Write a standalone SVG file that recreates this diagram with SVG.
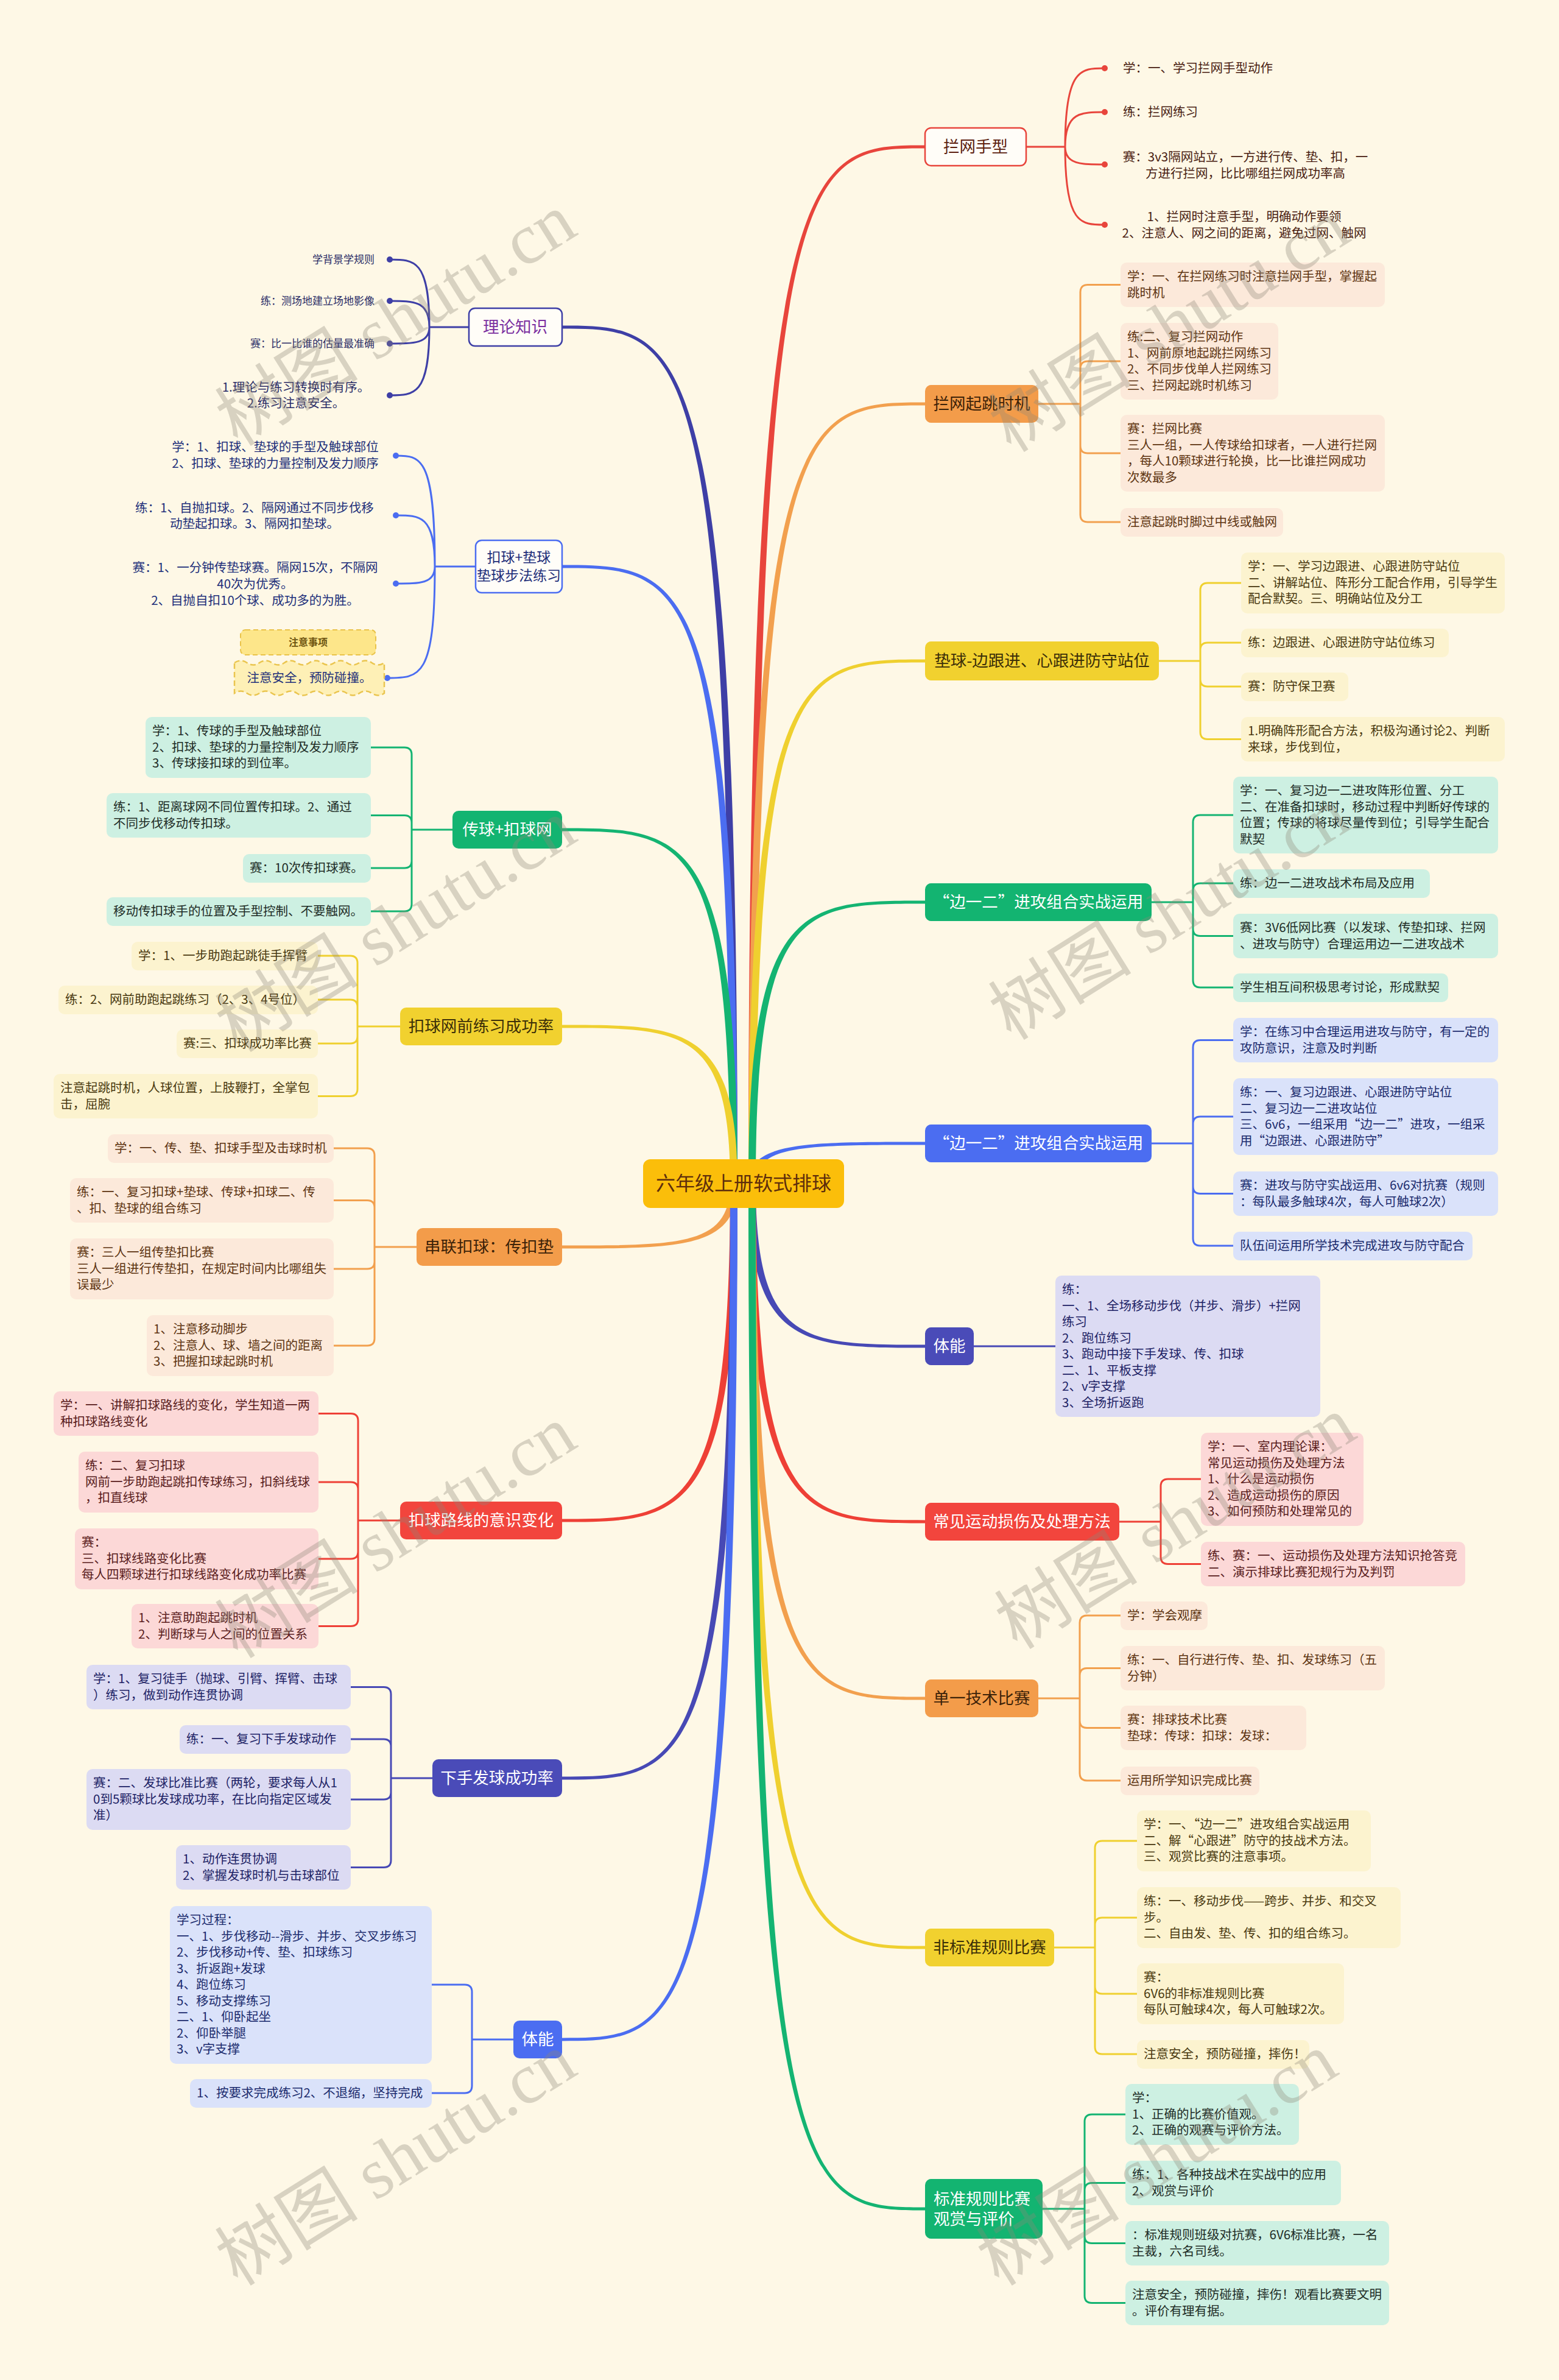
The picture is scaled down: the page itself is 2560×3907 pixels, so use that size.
<svg xmlns="http://www.w3.org/2000/svg" width="2560" height="3907" viewBox="0 0 2560 3907">
<style>
text{font-family:"Noto Sans CJK SC","Noto Sans",sans-serif}
.lt text,text.lt{font-size:20.5px}
.mt{font-size:26.5px;text-anchor:middle}
.lo rect{fill:#FCE9DA}.lo text{fill:#5E3512}
.ly rect{fill:#FCF3CF}.ly text{fill:#4A3A10}
.lg rect{fill:#CDF0E2}.lg text{fill:#1F2D27}
.lb rect{fill:#DAE2FA}.lb text{fill:#1C2C6E}
.li rect{fill:#DCDBF3}.li text{fill:#1E2366}
.lr rect{fill:#FCD8D7}.lr text{fill:#5A1D1D}
.leaf text{font-size:20.5px}
.sc{fill:none;stroke-width:3;stroke-linecap:round}
.wm{font-family:"Liberation Serif","Noto Sans CJK SC",serif;font-size:118px;fill:#8E8778;opacity:0.33;text-anchor:middle}
</style>
<rect x="0" y="0" width="2560" height="3907" fill="#FEF8E6"/>
<g id="connectors">
<g id="main-branches">
<path fill="#E8453C" d="M1229 1943C1229 238.5 1320 238.5 1519 238.5L1519 243.5C1320 243.5 1241 243.5 1241 1943Z"/>
<path fill="#F2A04E" d="M1229 1943C1229 660.5 1320 660.5 1519 660.5L1519 665.5C1320 665.5 1241 665.5 1241 1943Z"/>
<path fill="#EFD02F" d="M1229 1943C1229 1082.5 1320 1082.5 1519 1082.5L1519 1087.5C1320 1087.5 1241 1087.5 1241 1943Z"/>
<path fill="#14B472" d="M1229 1943C1229 1478.5 1320 1478.5 1519 1478.5L1519 1483.5C1320 1483.5 1241 1483.5 1241 1943Z"/>
<path fill="#4B6DF1" d="M1229 1943C1229 1874.5 1320 1874.5 1519 1874.5L1519 1879.5C1320 1879.5 1241 1879.5 1241 1943Z"/>
<path fill="#4749B5" d="M1229 1943C1229 2212.5 1320 2212.5 1519 2212.5L1519 2207.5C1320 2207.5 1241 2207.5 1241 1943Z"/>
<path fill="#EE4036" d="M1229 1943C1229 2500.5 1320 2500.5 1519 2500.5L1519 2495.5C1320 2495.5 1241 2495.5 1241 1943Z"/>
<path fill="#F2A04E" d="M1229 1943C1229 2790.5 1320 2790.5 1519 2790.5L1519 2785.5C1320 2785.5 1241 2785.5 1241 1943Z"/>
<path fill="#EFD02F" d="M1229 1943C1229 3199.5 1320 3199.5 1519 3199.5L1519 3194.5C1320 3194.5 1241 3194.5 1241 1943Z"/>
<path fill="#14B472" d="M1229 1943C1229 3628.5 1320 3628.5 1519 3628.5L1519 3623.5C1320 3623.5 1241 3623.5 1241 1943Z"/>
<path fill="#3E3FA6" d="M1211 1943C1211 534.5 1120 534.5 923 534.5L923 539.5C1120 539.5 1199 539.5 1199 1943Z"/>
<path fill="#4B6DF1" d="M1211 1943C1211 927.5 1120 927.5 923 927.5L923 932.5C1120 932.5 1199 932.5 1199 1943Z"/>
<path fill="#14B472" d="M1211 1943C1211 1359.5 1120 1359.5 923 1359.5L923 1364.5C1120 1364.5 1199 1364.5 1199 1943Z"/>
<path fill="#EFD02F" d="M1211 1943C1211 1682.5 1120 1682.5 923 1682.5L923 1687.5C1120 1687.5 1199 1687.5 1199 1943Z"/>
<path fill="#F2A04E" d="M1211 1943C1211 2049.5 1120 2049.5 923 2049.5L923 2044.5C1120 2044.5 1199 2044.5 1199 1943Z"/>
<path fill="#EE4036" d="M1211 1943C1211 2498.5 1120 2498.5 923 2498.5L923 2493.5C1120 2493.5 1199 2493.5 1199 1943Z"/>
<path fill="#4749B5" d="M1211 1943C1211 2921.5 1120 2921.5 923 2921.5L923 2916.5C1120 2916.5 1199 2916.5 1199 1943Z"/>
<path fill="#4B6DF1" d="M1211 1943C1211 3350.5 1120 3350.5 923 3350.5L923 3345.5C1120 3345.5 1199 3345.5 1199 1943Z"/>
</g>
<g id="sub-connectors">
<path class="sc" stroke="#E8453C" d="M1685 241H1749 M1749 241C1749 112 1775 112 1814 112 M1749 241C1749 184 1775 184 1814 184 M1749 241C1749 270 1775 270 1814 270 M1749 241C1749 369 1775 369 1814 369"/>
<g fill="#E8453C"><circle cx="1814" cy="112" r="5"/><circle cx="1814" cy="184" r="5"/><circle cx="1814" cy="270" r="5"/><circle cx="1814" cy="369" r="5"/></g>
<path class="sc" stroke="#F2A04E" d="M1705 663H1774 M1774 663V479.5Q1774 467.5 1786 467.5H1840 M1774 663V605Q1774 593 1786 593H1840 M1774 663V732Q1774 744 1786 744H1840 M1774 663V845Q1774 857 1786 857H1840"/>
<path class="sc" stroke="#EFD02F" d="M1903 1085H1971 M1971 1085V969Q1971 957 1983 957H2038 M1971 1085V1067Q1971 1055 1983 1055H2038 M1971 1085V1115Q1971 1127 1983 1127H2038 M1971 1085V1201.5Q1971 1213.5 1983 1213.5H2038"/>
<path class="sc" stroke="#14B472" d="M1891 1481H1959 M1959 1481V1350Q1959 1338 1971 1338H2025 M1959 1481V1462Q1959 1450 1971 1450H2025 M1959 1481V1524.5Q1959 1536.5 1971 1536.5H2025 M1959 1481V1609Q1959 1621 1971 1621H2025"/>
<path class="sc" stroke="#4B6DF1" d="M1891 1877H1959 M1959 1877V1719.5Q1959 1707.5 1971 1707.5H2025 M1959 1877V1845Q1959 1833 1971 1833H2025 M1959 1877V1947.5Q1959 1959.5 1971 1959.5H2025 M1959 1877V2033Q1959 2045 1971 2045H2025"/>
<path class="sc" stroke="#4749B5" d="M1599 2210H1733"/>
<path class="sc" stroke="#EE4036" d="M1838 2498H1906 M1906 2498V2440Q1906 2428 1918 2428H1972 M1906 2498V2555.5Q1906 2567.5 1918 2567.5H1972"/>
<path class="sc" stroke="#F2A04E" d="M1705 2788H1773 M1773 2788V2664Q1773 2652 1785 2652H1840 M1773 2788V2750.5Q1773 2738.5 1785 2738.5H1840 M1773 2788V2824.5Q1773 2836.5 1785 2836.5H1840 M1773 2788V2911Q1773 2923 1785 2923H1840"/>
<path class="sc" stroke="#EFD02F" d="M1731 3197H1798 M1798 3197V3034Q1798 3022 1810 3022H1867 M1798 3197V3160Q1798 3148 1810 3148H1867 M1798 3197V3261Q1798 3273 1810 3273H1867 M1798 3197V3360Q1798 3372 1810 3372H1867"/>
<path class="sc" stroke="#14B472" d="M1712 3626H1781 M1781 3626V3483Q1781 3471 1793 3471H1848 M1781 3626V3595.5Q1781 3583.5 1793 3583.5H1848 M1781 3626V3670.5Q1781 3682.5 1793 3682.5H1848 M1781 3626V3768.5Q1781 3780.5 1793 3780.5H1848"/>
<path class="sc" stroke="#3E3FA6" d="M770 537H705 M705 537C705 426 680 426 640 426 M705 537C705 494 680 494 640 494 M705 537C705 564 680 564 640 564 M705 537C705 649 680 649 640 649"/>
<g fill="#3E3FA6"><circle cx="640" cy="426" r="5"/><circle cx="640" cy="494" r="5"/><circle cx="640" cy="564" r="5"/><circle cx="640" cy="649" r="5"/></g>
<path class="sc" stroke="#4B6DF1" d="M781 930H714 M714 930C714 748 690 748 650 748 M714 930C714 846 690 846 650 846 M714 930C714 958 690 958 650 958 M714 930C714 1113 690 1113 636 1113"/>
<g fill="#4B6DF1"><circle cx="650" cy="748" r="5"/><circle cx="650" cy="846" r="5"/><circle cx="650" cy="958" r="5"/><circle cx="636" cy="1113" r="5"/></g>
<path class="sc" stroke="#14B472" d="M743 1362H676 M676 1362V1239Q676 1227 664 1227H609 M676 1362V1350.5Q676 1338.5 664 1338.5H609 M676 1362V1413Q676 1425 664 1425H609 M676 1362V1484Q676 1496 664 1496H609"/>
<path class="sc" stroke="#EFD02F" d="M657 1685H587 M587 1685V1581Q587 1569 575 1569H522 M587 1685V1653Q587 1641 575 1641H522 M587 1685V1701Q587 1713 575 1713H522 M587 1685V1787.5Q587 1799.5 575 1799.5H522"/>
<path class="sc" stroke="#F2A04E" d="M684 2047H615 M615 2047V1897Q615 1885 603 1885H548 M615 2047V1982.5Q615 1970.5 603 1970.5H548 M615 2047V2071Q615 2083 603 2083H548 M615 2047V2197Q615 2209 603 2209H548"/>
<path class="sc" stroke="#EE4036" d="M657 2496H588 M588 2496V2332.5Q588 2320.5 576 2320.5H523 M588 2496V2445Q588 2433 576 2433H523 M588 2496V2547Q588 2559 576 2559H523 M588 2496V2657.5Q588 2669.5 576 2669.5H523"/>
<path class="sc" stroke="#4749B5" d="M710 2919H642 M642 2919V2781.5Q642 2769.5 630 2769.5H576 M642 2919V2867Q642 2855 630 2855H576 M642 2919V2942Q642 2954 630 2954H576 M642 2919V3053.5Q642 3065.5 630 3065.5H576"/>
<path class="sc" stroke="#4B6DF1" d="M843 3348H775 M775 3348V3270Q775 3258 763 3258H709 M775 3348V3424Q775 3436 763 3436H709"/>
</g>
</g>

<g id="root"><rect x="1056" y="1903" width="330" height="80" rx="12" fill="#FBBE0A"/><text x="1221" y="1954" font-size="32" text-anchor="middle" fill="#5E2E0C">六年级上册软式排球</text></g>

<!-- right main nodes -->
<g id="n-r1"><rect x="1519" y="210" width="166" height="62" rx="10" fill="#FFFDF8" stroke="#E8453C" stroke-width="2.5"/><text class="mt" x="1602" y="250" fill="#5C1F10">拦网手型</text></g>
<g id="n-r2"><rect x="1519" y="632" width="186" height="62" rx="10" fill="#F39C4A"/><text class="mt" x="1612" y="672" fill="#3C2208">拦网起跳时机</text></g>
<g id="n-r3"><rect x="1519" y="1053" width="384" height="64" rx="10" fill="#F1D12F"/><text class="mt" x="1711" y="1094" fill="#3C2F08">垫球-边跟进、心跟进防守站位</text></g>
<g id="n-r4"><rect x="1519" y="1450" width="372" height="62" rx="10" fill="#13B471"/><text class="mt" x="1705" y="1490" fill="#FFFFFF">“边一二”进攻组合实战运用</text></g>
<g id="n-r5"><rect x="1519" y="1846" width="372" height="62" rx="10" fill="#4B6DF1"/><text class="mt" x="1705" y="1886" fill="#FFFFFF">“边一二”进攻组合实战运用</text></g>
<g id="n-r6"><rect x="1519" y="2179" width="80" height="62" rx="10" fill="#4A4BB8"/><text class="mt" x="1559" y="2219" fill="#FFFFFF">体能</text></g>
<g id="n-r7"><rect x="1519" y="2467" width="319" height="62" rx="10" fill="#F2453D"/><text class="mt" x="1678" y="2507" fill="#FFFFFF">常见运动损伤及处理方法</text></g>
<g id="n-r8"><rect x="1519" y="2757" width="186" height="62" rx="10" fill="#F39C4A"/><text class="mt" x="1612" y="2797" fill="#3C2208">单一技术比赛</text></g>
<g id="n-r9"><rect x="1519" y="3166" width="212" height="62" rx="10" fill="#F1D12F"/><text class="mt" x="1625" y="3206" fill="#3C2F08">非标准规则比赛</text></g>
<g id="n-r10"><rect x="1519" y="3577" width="193" height="98" rx="10" fill="#13B471"/><text font-size="26.5" fill="#FFFFFF"><tspan x="1533" y="3619">标准规则比赛</tspan><tspan x="1533" y="3652">观赏与评价</tspan></text></g>

<!-- left main nodes -->
<g id="n-l1"><rect x="770" y="506" width="153" height="62" rx="10" fill="#FFFDF8" stroke="#3E3FA6" stroke-width="2.5"/><text class="mt" x="846" y="546" fill="#7B2FA0">理论知识</text></g>
<g id="n-l2"><rect x="781" y="887" width="142" height="86" rx="10" fill="#FFFDF8" stroke="#4B6DF1" stroke-width="2.5"/><text font-size="23" text-anchor="middle" fill="#1F2F7A"><tspan x="852" y="923">扣球+垫球</tspan><tspan x="852" y="953">垫球步法练习</tspan></text></g>
<g id="n-l3"><rect x="743" y="1331" width="180" height="62" rx="10" fill="#13B471"/><text class="mt" x="833" y="1371" fill="#FFFFFF">传球+扣球网</text></g>
<g id="n-l4"><rect x="657" y="1654" width="266" height="62" rx="10" fill="#F1D12F"/><text class="mt" x="790" y="1694" fill="#3C2F08">扣球网前练习成功率</text></g>
<g id="n-l5"><rect x="684" y="2016" width="239" height="62" rx="10" fill="#F39C4A"/><text class="mt" x="803" y="2056" fill="#3C2208">串联扣球：传扣垫</text></g>
<g id="n-l6"><rect x="657" y="2465" width="266" height="62" rx="10" fill="#F2453D"/><text class="mt" x="790" y="2505" fill="#FFFFFF">扣球路线的意识变化</text></g>
<g id="n-l7"><rect x="710" y="2888" width="213" height="62" rx="10" fill="#4A4BB8"/><text class="mt" x="816" y="2928" fill="#FFFFFF">下手发球成功率</text></g>
<g id="n-l8"><rect x="843" y="3317" width="80" height="62" rx="10" fill="#4B6DF1"/><text class="mt" x="883" y="3357" fill="#FFFFFF">体能</text></g>

<!-- R1 leaves (text only) -->
<g id="r1-leaves" font-size="20.5" fill="#4A1E12">
<text x="1844" y="119">学：一、学习拦网手型动作</text>
<text x="1844" y="191">练：拦网练习</text>
<text text-anchor="middle"><tspan x="2045" y="265">赛：3v3隔网站立，一方进行传、垫、扣，一</tspan><tspan x="2045" y="292">方进行拦网，比比哪组拦网成功率高</tspan></text>
<text text-anchor="middle"><tspan x="2043" y="363">1、拦网时注意手型，明确动作要领</tspan><tspan x="2043" y="390">2、注意人、网之间的距离，避免过网、触网</tspan></text>
</g>

<!-- R2 leaves -->
<g id="r2c1" class="leaf lo"><rect x="1840" y="431" width="434" height="73" rx="10"/><text y="461"><tspan x="1851">学：一、在拦网练习时注意拦网手型，掌握起</tspan><tspan x="1851" dy="26.5">跳时机</tspan></text></g>
<g id="r2c2" class="leaf lo"><rect x="1840" y="530" width="259" height="126" rx="10"/><text y="560"><tspan x="1851">练:二、复习拦网动作</tspan><tspan x="1851" dy="26.5">1、网前原地起跳拦网练习</tspan><tspan x="1851" dy="26.5">2、不同步伐单人拦网练习</tspan><tspan x="1851" dy="26.5">三、拦网起跳时机练习</tspan></text></g>
<g id="r2c3" class="leaf lo"><rect x="1840" y="681" width="434" height="126" rx="10"/><text y="711"><tspan x="1851">赛：拦网比赛</tspan><tspan x="1851" dy="26.5">三人一组，一人传球给扣球者，一人进行拦网</tspan><tspan x="1851" dy="26.5">，每人10颗球进行轮换，比一比谁拦网成功</tspan><tspan x="1851" dy="26.5">次数最多</tspan></text></g>
<g id="r2c4" class="leaf lo"><rect x="1840" y="834" width="267" height="47" rx="10"/><text x="1851" y="864">注意起跳时脚过中线或触网</text></g>

<!-- R3 leaves -->
<g id="r3c1" class="leaf ly"><rect x="2038" y="907" width="433" height="100" rx="10"/><text y="937"><tspan x="2049">学：一、学习边跟进、心跟进防守站位</tspan><tspan x="2049" dy="26.5">二、讲解站位、阵形分工配合作用，引导学生</tspan><tspan x="2049" dy="26.5">配合默契。三、明确站位及分工</tspan></text></g>
<g id="r3c2" class="leaf ly"><rect x="2038" y="1032" width="341" height="47" rx="10"/><text x="2049" y="1062">练：边跟进、心跟进防守站位练习</text></g>
<g id="r3c3" class="leaf ly"><rect x="2038" y="1104" width="176" height="47" rx="10"/><text x="2049" y="1134">赛：防守保卫赛</text></g>
<g id="r3c4" class="leaf ly"><rect x="2038" y="1177" width="433" height="73" rx="10"/><text y="1207"><tspan x="2049">1.明确阵形配合方法，积极沟通讨论2、判断</tspan><tspan x="2049" dy="26.5">来球，步伐到位，</tspan></text></g>

<!-- R4 leaves -->
<g id="r4c1" class="leaf lg"><rect x="2025" y="1275" width="435" height="126" rx="10"/><text y="1305"><tspan x="2036">学：一、复习边一二进攻阵形位置、分工</tspan><tspan x="2036" dy="26.5">二、在准备扣球时，移动过程中判断好传球的</tspan><tspan x="2036" dy="26.5">位置；传球的将球尽量传到位；引导学生配合</tspan><tspan x="2036" dy="26.5">默契</tspan></text></g>
<g id="r4c2" class="leaf lg"><rect x="2025" y="1427" width="323" height="47" rx="10"/><text x="2036" y="1457">练：边一二进攻战术布局及应用</text></g>
<g id="r4c3" class="leaf lg"><rect x="2025" y="1500" width="435" height="73" rx="10"/><text y="1530"><tspan x="2036">赛：3V6低网比赛（以发球、传垫扣球、拦网</tspan><tspan x="2036" dy="26.5">、进攻与防守）合理运用边一二进攻战术</tspan></text></g>
<g id="r4c4" class="leaf lg"><rect x="2025" y="1598" width="353" height="47" rx="10"/><text x="2036" y="1628">学生相互间积极思考讨论，形成默契</text></g>

<!-- R5 leaves -->
<g id="r5c1" class="leaf lb"><rect x="2025" y="1671" width="435" height="73" rx="10"/><text y="1701"><tspan x="2036">学：在练习中合理运用进攻与防守，有一定的</tspan><tspan x="2036" dy="26.5">攻防意识，注意及时判断</tspan></text></g>
<g id="r5c2" class="leaf lb"><rect x="2025" y="1770" width="435" height="126" rx="10"/><text y="1800"><tspan x="2036">练：一、复习边跟进、心跟进防守站位</tspan><tspan x="2036" dy="26.5">二、复习边一二进攻站位</tspan><tspan x="2036" dy="26.5">三、6v6，一组采用“边一二”进攻，一组采</tspan><tspan x="2036" dy="26.5">用“边跟进、心跟进防守”</tspan></text></g>
<g id="r5c3" class="leaf lb"><rect x="2025" y="1923" width="435" height="73" rx="10"/><text y="1953"><tspan x="2036">赛：进攻与防守实战运用、6v6对抗赛（规则</tspan><tspan x="2036" dy="26.5">：每队最多触球4次，每人可触球2次）</tspan></text></g>
<g id="r5c4" class="leaf lb"><rect x="2025" y="2022" width="393" height="47" rx="10"/><text x="2036" y="2052">队伍间运用所学技术完成进攻与防守配合</text></g>

<!-- R6 leaf -->
<g id="r6c1" class="leaf li"><rect x="1733" y="2094" width="435" height="232" rx="10"/><text y="2124"><tspan x="1744">练：</tspan><tspan x="1744" dy="26.5">一、1、全场移动步伐（并步、滑步）+拦网</tspan><tspan x="1744" dy="26.5">练习</tspan><tspan x="1744" dy="26.5">2、跑位练习</tspan><tspan x="1744" dy="26.5">3、跑动中接下手发球、传、扣球</tspan><tspan x="1744" dy="26.5">二、1、平板支撑</tspan><tspan x="1744" dy="26.5">2、v字支撑</tspan><tspan x="1744" dy="26.5">3、全场折返跑</tspan></text></g>

<!-- R7 leaves -->
<g id="r7c1" class="leaf lr"><rect x="1972" y="2352" width="267" height="153" rx="10"/><text y="2382"><tspan x="1983">学：一、室内理论课：</tspan><tspan x="1983" dy="26.5">常见运动损伤及处理方法</tspan><tspan x="1983" dy="26.5">1、什么是运动损伤</tspan><tspan x="1983" dy="26.5">2、造成运动损伤的原因</tspan><tspan x="1983" dy="26.5">3、如何预防和处理常见的</tspan></text></g>
<g id="r7c2" class="leaf lr"><rect x="1972" y="2531" width="434" height="73" rx="10"/><text y="2561"><tspan x="1983">练、赛：一、运动损伤及处理方法知识抢答竞</tspan><tspan x="1983" dy="26.5">二、演示排球比赛犯规行为及判罚</tspan></text></g>

<!-- R8 leaves -->
<g id="r8c1" class="leaf lo"><rect x="1840" y="2629" width="143" height="47" rx="10"/><text x="1851" y="2659">学：学会观摩</text></g>
<g id="r8c2" class="leaf lo"><rect x="1840" y="2702" width="434" height="73" rx="10"/><text y="2732"><tspan x="1851">练：一、自行进行传、垫、扣、发球练习（五</tspan><tspan x="1851" dy="26.5">分钟）</tspan></text></g>
<g id="r8c3" class="leaf lo"><rect x="1840" y="2800" width="305" height="73" rx="10"/><text y="2830"><tspan x="1851">赛：排球技术比赛</tspan><tspan x="1851" dy="26.5">垫球：传球：扣球：发球：</tspan></text></g>
<g id="r8c4" class="leaf lo"><rect x="1840" y="2900" width="228" height="47" rx="10"/><text x="1851" y="2930">运用所学知识完成比赛</text></g>

<!-- R9 leaves -->
<g id="r9c1" class="leaf ly"><rect x="1867" y="2972" width="384" height="100" rx="10"/><text y="3002"><tspan x="1878">学：一、“边一二”进攻组合实战运用</tspan><tspan x="1878" dy="26.5">二、解“心跟进”防守的技战术方法。</tspan><tspan x="1878" dy="26.5">三、观赏比赛的注意事项。</tspan></text></g>
<g id="r9c2" class="leaf ly"><rect x="1867" y="3098" width="433" height="100" rx="10"/><text y="3128"><tspan x="1878">练：一、移动步伐——跨步、并步、和交叉</tspan><tspan x="1878" dy="26.5">步。</tspan><tspan x="1878" dy="26.5">二、自由发、垫、传、扣的组合练习。</tspan></text></g>
<g id="r9c3" class="leaf ly"><rect x="1867" y="3223" width="340" height="100" rx="10"/><text y="3253"><tspan x="1878">赛：</tspan><tspan x="1878" dy="26.5">6V6的非标准规则比赛</tspan><tspan x="1878" dy="26.5">每队可触球4次，每人可触球2次。</tspan></text></g>
<g id="r9c4" class="leaf ly"><rect x="1867" y="3349" width="283" height="47" rx="10"/><text x="1878" y="3379">注意安全，预防碰撞，摔伤！</text></g>

<!-- R10 leaves -->
<g id="r10c1" class="leaf lg"><rect x="1848" y="3421" width="285" height="100" rx="10"/><text y="3451"><tspan x="1859">学：</tspan><tspan x="1859" dy="26.5">1、正确的比赛价值观。</tspan><tspan x="1859" dy="26.5">2、正确的观赛与评价方法。</tspan></text></g>
<g id="r10c2" class="leaf lg"><rect x="1848" y="3547" width="354" height="73" rx="10"/><text y="3577"><tspan x="1859">练：1、各种技战术在实战中的应用</tspan><tspan x="1859" dy="26.5">2、观赏与评价</tspan></text></g>
<g id="r10c3" class="leaf lg"><rect x="1848" y="3646" width="433" height="73" rx="10"/><text y="3676"><tspan x="1859">：标准规则班级对抗赛，6V6标准比赛，一名</tspan><tspan x="1859" dy="26.5">主裁，六名司线。</tspan></text></g>
<g id="r10c4" class="leaf lg"><rect x="1848" y="3744" width="433" height="73" rx="10"/><text y="3774"><tspan x="1859">注意安全，预防碰撞，摔伤！观看比赛要文明</tspan><tspan x="1859" dy="26.5">。评价有理有据。</tspan></text></g>

<!-- L1 leaves (text only) -->
<g id="l1-leaves" fill="#2B2D66">
<text x="615" y="432" font-size="17" text-anchor="end">学背景学规则</text>
<text x="615" y="500" font-size="17" text-anchor="end">练：测场地建立场地影像</text>
<text x="615" y="570" font-size="17" text-anchor="end">赛：比一比谁的估量最准确</text>
<text font-size="20.5" text-anchor="middle"><tspan x="486" y="643">1.理论与练习转换时有序。</tspan><tspan x="486" y="669">2.练习注意安全。</tspan></text>
</g>

<!-- L2 leaves -->
<g id="l2-leaves" fill="#22307A" font-size="20.5" text-anchor="middle">
<text><tspan x="452" y="741">学：1、扣球、垫球的手型及触球部位</tspan><tspan x="452" y="768">2、扣球、垫球的力量控制及发力顺序</tspan></text>
<text><tspan x="418" y="841">练：1、自抛扣球。2、隔网通过不同步伐移</tspan><tspan x="418" y="867">动垫起扣球。3、隔网扣垫球。</tspan></text>
<text><tspan x="419" y="939">赛：1、一分钟传垫球赛。隔网15次，不隔网</tspan><tspan x="419" y="966">40次为优秀。</tspan><tspan x="419" y="993">2、自抛自扣10个球、成功多的为胜。</tspan></text>
</g>
<g id="l2-note">
<rect x="395" y="1034" width="222" height="41" rx="8" fill="#FDE68A" stroke="#E9C34A" stroke-width="2" stroke-dasharray="8 5"/>
<text x="506" y="1060" font-size="16" font-weight="bold" text-anchor="middle" fill="#6E5410">注意事项</text>
<path d="M385 1088Q395.25 1081 405.5 1088T426 1088T446.5 1088T467 1088T487.5 1088T508 1088T528.5 1088T549 1088T569.5 1088T590 1088T610.5 1088T631 1088L631 1138Q620.75 1145 610.5 1138T590 1138T569.5 1138T549 1138T528.5 1138T508 1138T487.5 1138T467 1138T446.5 1138T426 1138T405.5 1138T385 1138Z" fill="#FEF0B6" stroke="#EAC54F" stroke-width="2.5" stroke-dasharray="9 5"/>
<text x="508" y="1120" font-size="20.5" text-anchor="middle" fill="#22307A">注意安全，预防碰撞。</text>
</g>

<!-- L3 leaves -->
<g id="l3c1" class="leaf lg"><rect x="239" y="1177" width="370" height="100" rx="10"/><text y="1207"><tspan x="250">学：1、传球的手型及触球部位</tspan><tspan x="250" dy="26.5">2、扣球、垫球的力量控制及发力顺序</tspan><tspan x="250" dy="26.5">3、传球接扣球的到位率。</tspan></text></g>
<g id="l3c2" class="leaf lg"><rect x="175" y="1302" width="434" height="73" rx="10"/><text y="1332"><tspan x="186">练：1、距离球网不同位置传扣球。2、通过</tspan><tspan x="186" dy="26.5">不同步伐移动传扣球。</tspan></text></g>
<g id="l3c3" class="leaf lg"><rect x="399" y="1402" width="210" height="47" rx="10"/><text x="410" y="1432">赛：10次传扣球赛。</text></g>
<g id="l3c4" class="leaf lg"><rect x="175" y="1473" width="434" height="47" rx="10"/><text x="186" y="1503">移动传扣球手的位置及手型控制、不要触网。</text></g>

<!-- L4 leaves -->
<g id="l4c1" class="leaf ly"><rect x="216" y="1546" width="306" height="47" rx="10"/><text x="227" y="1576">学：1、一步助跑起跳徒手挥臂</text></g>
<g id="l4c2" class="leaf ly"><rect x="96" y="1618" width="426" height="47" rx="10"/><text x="107" y="1648">练：2、网前助跑起跳练习（2、3、4号位）</text></g>
<g id="l4c3" class="leaf ly"><rect x="290" y="1690" width="232" height="47" rx="10"/><text x="301" y="1720">赛:三、扣球成功率比赛</text></g>
<g id="l4c4" class="leaf ly"><rect x="88" y="1763" width="434" height="73" rx="10"/><text y="1793"><tspan x="99">注意起跳时机，人球位置，上肢鞭打，全掌包</tspan><tspan x="99" dy="26.5">击，屈腕</tspan></text></g>

<!-- L5 leaves -->
<g id="l5c1" class="leaf lo"><rect x="177" y="1862" width="371" height="47" rx="10"/><text x="188" y="1892">学：一、传、垫、扣球手型及击球时机</text></g>
<g id="l5c2" class="leaf lo"><rect x="115" y="1934" width="433" height="73" rx="10"/><text y="1964"><tspan x="126">练：一、复习扣球+垫球、传球+扣球二、传</tspan><tspan x="126" dy="26.5">、扣、垫球的组合练习</tspan></text></g>
<g id="l5c3" class="leaf lo"><rect x="115" y="2033" width="433" height="100" rx="10"/><text y="2063"><tspan x="126">赛：三人一组传垫扣比赛</tspan><tspan x="126" dy="26.5">三人一组进行传垫扣，在规定时间内比哪组失</tspan><tspan x="126" dy="26.5">误最少</tspan></text></g>
<g id="l5c4" class="leaf lo"><rect x="241" y="2159" width="307" height="100" rx="10"/><text y="2189"><tspan x="252">1、注意移动脚步</tspan><tspan x="252" dy="26.5">2、注意人、球、墙之间的距离</tspan><tspan x="252" dy="26.5">3、把握扣球起跳时机</tspan></text></g>

<!-- L6 leaves -->
<g id="l6c1" class="leaf lr"><rect x="88" y="2284" width="435" height="73" rx="10"/><text y="2314"><tspan x="99">学：一、讲解扣球路线的变化，学生知道一两</tspan><tspan x="99" dy="26.5">种扣球路线变化</tspan></text></g>
<g id="l6c2" class="leaf lr"><rect x="129" y="2383" width="394" height="100" rx="10"/><text y="2413"><tspan x="140">练：二、复习扣球</tspan><tspan x="140" dy="26.5">网前一步助跑起跳扣传球练习，扣斜线球</tspan><tspan x="140" dy="26.5">，扣直线球</tspan></text></g>
<g id="l6c3" class="leaf lr"><rect x="123" y="2509" width="400" height="100" rx="10"/><text y="2539"><tspan x="134">赛：</tspan><tspan x="134" dy="26.5">三、扣球线路变化比赛</tspan><tspan x="134" dy="26.5">每人四颗球进行扣球线路变化成功率比赛</tspan></text></g>
<g id="l6c4" class="leaf lr"><rect x="216" y="2633" width="307" height="73" rx="10"/><text y="2663"><tspan x="227">1、注意助跑起跳时机</tspan><tspan x="227" dy="26.5">2、判断球与人之间的位置关系</tspan></text></g>

<!-- L7 leaves -->
<g id="l7c1" class="leaf li"><rect x="142" y="2733" width="434" height="73" rx="10"/><text y="2763"><tspan x="153">学：1、复习徒手（抛球、引臂、挥臂、击球</tspan><tspan x="153" dy="26.5">）练习，做到动作连贯协调</tspan></text></g>
<g id="l7c2" class="leaf li"><rect x="295" y="2832" width="281" height="47" rx="10"/><text x="306" y="2862">练：一、复习下手发球动作</text></g>
<g id="l7c3" class="leaf li"><rect x="142" y="2904" width="434" height="100" rx="10"/><text y="2934"><tspan x="153">赛：二、发球比准比赛（两轮，要求每人从1</tspan><tspan x="153" dy="26.5">0到5颗球比发球成功率，在比向指定区域发</tspan><tspan x="153" dy="26.5">准）</tspan></text></g>
<g id="l7c4" class="leaf li"><rect x="289" y="3029" width="287" height="73" rx="10"/><text y="3059"><tspan x="300">1、动作连贯协调</tspan><tspan x="300" dy="26.5">2、掌握发球时机与击球部位</tspan></text></g>

<!-- L8 leaves -->
<g id="l8c1" class="leaf lb"><rect x="279" y="3129" width="430" height="259" rx="10"/><text y="3159"><tspan x="290">学习过程：</tspan><tspan x="290" dy="26.5">一、1、步伐移动--滑步、并步、交叉步练习</tspan><tspan x="290" dy="26.5">2、步伐移动+传、垫、扣球练习</tspan><tspan x="290" dy="26.5">3、折返跑+发球</tspan><tspan x="290" dy="26.5">4、跑位练习</tspan><tspan x="290" dy="26.5">5、移动支撑练习</tspan><tspan x="290" dy="26.5">二、1、仰卧起坐</tspan><tspan x="290" dy="26.5">2、仰卧举腿</tspan><tspan x="290" dy="26.5">3、v字支撑</tspan></text></g>
<g id="l8c2" class="leaf lb"><rect x="312" y="3413" width="397" height="47" rx="10"/><text x="323" y="3443">1、按要求完成练习2、不退缩，坚持完成</text></g>

<!-- watermarks -->
<g id="watermarks">
<text class="wm" x="650" y="565" transform="rotate(-32 650 525)">树图 shutu.cn</text>
<text class="wm" x="650" y="1560" transform="rotate(-32 650 1520)">树图 shutu.cn</text>
<text class="wm" x="650" y="2555" transform="rotate(-32 650 2515)">树图 shutu.cn</text>
<text class="wm" x="650" y="3585" transform="rotate(-32 650 3545)">树图 shutu.cn</text>
<text class="wm" x="1920" y="575" transform="rotate(-32 1920 535)">树图 shutu.cn</text>
<text class="wm" x="1920" y="1540" transform="rotate(-32 1920 1500)">树图 shutu.cn</text>
<text class="wm" x="1930" y="2540" transform="rotate(-32 1930 2500)">树图 shutu.cn</text>
<text class="wm" x="1900" y="3585" transform="rotate(-32 1900 3545)">树图 shutu.cn</text>
</g>
</svg>
